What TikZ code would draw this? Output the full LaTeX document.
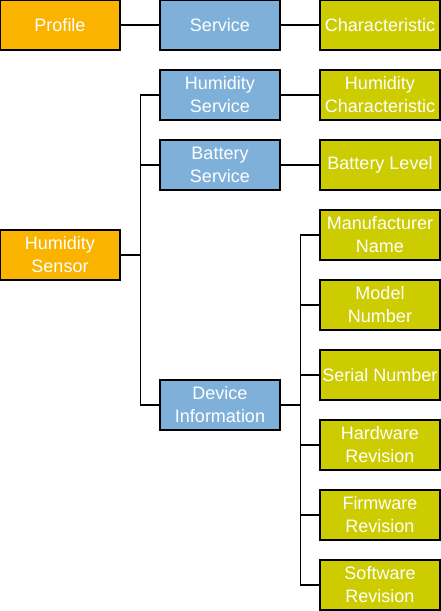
\documentclass[tikz,border=0pt]{standalone}
\usepackage{fontspec}
\setmainfont{Liberation Sans}
\usepackage{tikz}
\usetikzlibrary{positioning}
\definecolor{profileorange}{RGB}{250,180,0}
\definecolor{serviceblue}{RGB}{126,176,218}
\definecolor{charolive}{RGB}{204,204,0}

\begin{document}
\begin{tikzpicture}[x=1pt, y=-1pt, line width=1.2pt,
    box/.style={draw=black, minimum width=120pt, minimum height=50pt, inner sep=0pt,
      align=center, text=white, font=\fontsize{18pt}{23pt}\selectfont},
    profilebox/.style={box, fill=profileorange},
    servicebox/.style={box, fill=serviceblue},
    charbox/.style={box, fill=charolive}]
  \useasboundingbox (0,0) rectangle (441,611);

  % Legend row
  \node[profilebox] (profile) at (60,25) {Profile};
  \node[servicebox] (service) at (220,25) {Service};
  \node[charbox] (characteristic) at (380,25) {Characteristic};
  \draw (profile) -- (service);
  \draw (service) -- (characteristic);

  % Sensor profile
  \node[profilebox] (sensor) at (60,255) {Humidity\\Sensor};

  % Services
  \node[servicebox] (humsvc) at (220,95) {Humidity\\Service};
  \node[servicebox] (battsvc) at (220,165) {Battery\\Service};
  \node[servicebox] (devinfo) at (220,405) {Device\\Information};
  \foreach \svc in {humsvc, battsvc, devinfo} {
    \draw (sensor.east) -- ++(20,0) |- (\svc.west);
  }

  % Characteristics of the first two services
  \node[charbox] (humchar) at (380,95) {Humidity\\Characteristic};
  \node[charbox] (battlevel) at (380,165) {Battery Level};
  \draw (humsvc) -- (humchar);
  \draw (battsvc) -- (battlevel);

  % Device information characteristics
  \foreach \name/\y/\label in {manuf/235/Manufacturer\\Name, model/305/Model\\Number,
      serial/375/Serial Number, hardware/445/Hardware\\Revision,
      firmware/515/Firmware\\Revision, software/585/Software\\Revision} {
    \node[charbox] (\name) at (380,\y) {\label};
    \draw (devinfo.east) -- ++(20,0) |- (\name.west);
  }
\end{tikzpicture}
\end{document}
